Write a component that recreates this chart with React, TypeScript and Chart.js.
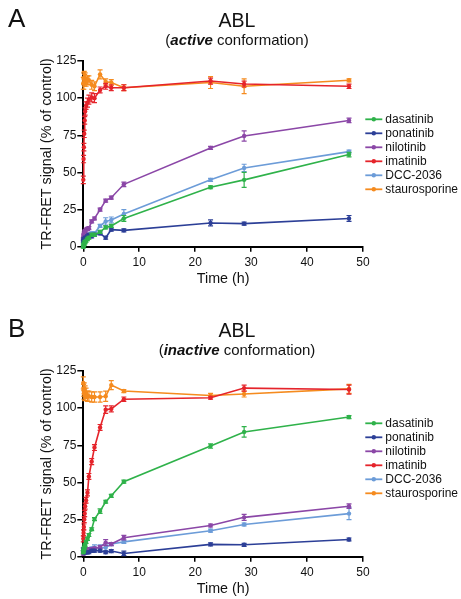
import React, { useEffect, useRef } from "react";
import { Chart, registerables } from "chart.js";

Chart.register(...registerables);

// ---------- data ----------
const timesH = [0, 0.05, 0.1, 0.17, 0.25, 0.33, 0.5, 0.75, 1, 1.5, 2, 3, 4, 5, 7.25, 22.75, 28.75, 47.5];
const seriesNames = ["dasatinib", "ponatinib", "nilotinib", "imatinib", "DCC-2036", "staurosporine"];
const seriesColors = ["#2fb24a", "#2c3f97", "#8b47a7", "#e5242b", "#6c9cd8", "#f58b1f"];
const xTicks = [0, 10, 20, 30, 40, 50];
const yTicks = [0, 25, 50, 75, 100, 125];

// Panel A (active conformation)
const dasatinibA = [0, 1, 2, 2, 3, 3, 4, 5, 6, 8, 8, 10, 13, 14, 19, 40, 45, 62];
const ponatinibA = [4, 4, 5, 5, 5, 6, 6, 7, 8, 7, 8, 9, 6, 11.5, 11, 16, 15.5, 19];
const nilotinibA = [5, 7, 8, 9, 10, 10.5, 11.5, 12, 12.5, 17, 19, 25, 31, 33, 42, 66.5, 74.5, 85];
const dccA = [3, 3, 4, 4, 5, 5, 6, 7, 8, 9, 9, 14, 17, 18, 22, 45, 53, 64];
const imatinibA = [45, 59, 67, 76, 85, 91, 95, 97, 99, 100.5, 100, 105.5, 108, 107, 107, 111.5, 109.5, 108];
const stauroA = [110, 113, 110, 114, 112, 113, 111, 112, 112, 109, 108, 116, 111, 110.5, 107, 110.5, 108, 112];

const dasatinibAErr = [1, 1, 1, 1, 1, 1, 1, 1, 1, 1, 1, 1, 1, 1, 2, 1, 5, 1.5];
const ponatinibAErr = [1, 1, 1, 1, 1, 1, 1, 1, 1, 1, 1, 1, 1, 1, 1, 2, 1, 2];
const nilotinibAErr = [1, 1, 1, 1, 1, 1, 1, 1, 1, 1, 1, 1, 1, 1, 1.5, 1, 3.5, 1.5];
const dccAErr = [1, 1, 1, 1, 1, 1, 1, 1, 1, 1, 1, 1, 2.5, 2, 3, 1, 2.5, 1];
const imatinibAErr = [2.5, 2.5, 2.5, 2.5, 2.5, 2.5, 2.5, 3, 3, 3, 3, 2, 2, 2, 2, 2, 2, 1.5];
const stauroAErr = [4, 4, 4, 4, 4, 4, 3, 3, 3, 3, 3, 3, 2, 2, 2, 4, 5, 1];

// Panel B (inactive conformation)
const dasatinibB = [3, 4, 5, 6, 7, 8, 10, 12, 14.6, 18.5, 25.3, 30.7, 37, 41, 50.5, 74.5, 84, 94];
const ponatinibB = [5, 4, 4, 3, 3, 3, 3, 3, 3, 4, 4, 4, 3, 3.8, 2.2, 8.3, 8, 11.6];
const nilotinibB = [2, 3, 3, 3, 3, 4, 4, 5, 5, 5, 5.5, 6.5, 9.5, 8.5, 12.8, 21, 26.5, 34];
const dccB = [3, 4, 4, 5, 5, 5, 5, 5, 5, 5.5, 6, 6, 6, 8.5, 10, 17.5, 21.7, 29];
const imatinibB = [12, 16, 20, 25, 29, 34, 38, 43, 54, 64, 73.5, 87, 99, 99.5, 106, 107, 113.5, 112.5];
const stauroB = [117, 112, 110, 113, 109, 111, 110, 108, 108, 107.5, 107.5, 107.5, 108, 115.5, 111.5, 108.5, 109.5, 113];

const dasatinibBErr = [1, 1, 1, 1, 1, 1, 1, 1, 1, 1, 1, 1.5, 1, 1, 1, 1.5, 3.5, 1];
const ponatinibBErr = [1, 1, 1, 1, 1, 1, 1, 1, 1, 1, 1, 1, 1, 1, 1.5, 1, 1, 1];
const nilotinibBErr = [1, 1, 1, 1, 1, 1, 1, 1, 1, 1, 1, 1, 2, 1, 1.5, 1, 2, 1.5];
const dccBErr = [1, 1, 1, 1, 1, 1, 1, 1, 1, 1, 2, 2, 2, 1, 1, 1, 1, 4];
const imatinibBErr = [2, 2, 2, 2, 2, 2, 2, 2, 2, 2, 2, 2, 2.5, 2, 1.5, 1, 2, 3];
const stauroBErr = [4, 4, 4, 4, 4, 4, 3.5, 3.5, 3.5, 3.5, 3.5, 3.5, 3.5, 3, 1, 1.5, 2, 3];

const FONT = "'Liberation Sans', Arial, Helvetica, sans-serif";

type PanelCfg = {
  letter: string;
  state: string;
  values: number[][];
  errors: number[][];
  legendTop: number;
};

const panels: PanelCfg[] = [
  {
    letter: "A",
    state: "active",
    values: [dasatinibA, ponatinibA, nilotinibA, imatinibA, dccA, stauroA],
    errors: [dasatinibAErr, ponatinibAErr, nilotinibAErr, imatinibAErr, dccAErr, stauroAErr],
    legendTop: 58.3,
  },
  {
    letter: "B",
    state: "inactive",
    values: [dasatinibB, ponatinibB, nilotinibB, imatinibB, dccB, stauroB],
    errors: [dasatinibBErr, ponatinibBErr, nilotinibBErr, imatinibBErr, dccBErr, stauroBErr],
    legendTop: 52.3,
  },
];

const W = 461;
const H = 289;

function Panel({ cfg, top }: { cfg: PanelCfg; top: number }) {
  const ref = useRef<HTMLCanvasElement | null>(null);

  useEffect(() => {
    if (!ref.current) return;

    const datasets = seriesNames.map((name, i) => ({
      label: name,
      data: timesH.map((t, j) => ({ x: t, y: cfg.values[i][j] })),
      borderColor: seriesColors[i],
      backgroundColor: seriesColors[i],
      borderWidth: 1.6,
      pointRadius: 2.2,
      pointBorderWidth: 0,
      pointHoverRadius: 2.2,
      tension: 0,
      clip: false as any,
      errors: cfg.errors[i],
    }));

    const errorBars = {
      id: "errorBars",
      afterDatasetDraw(chart: any, args: any) {
        const ds = chart.data.datasets[args.index];
        const errs: number[] = ds.errors;
        if (!errs) return;
        const ys = chart.scales.y;
        const xs = chart.scales.x;
        const ctx = chart.ctx;
        ctx.save();
        ctx.strokeStyle = ds.borderColor;
        ctx.lineWidth = 1.2;
        ds.data.forEach((p: any, j: number) => {
          const e = errs[j];
          if (!e) return;
          const px = xs.getPixelForValue(p.x);
          const y1 = ys.getPixelForValue(p.y - e);
          const y2 = ys.getPixelForValue(p.y + e);
          ctx.beginPath();
          ctx.moveTo(px, y1);
          ctx.lineTo(px, y2);
          ctx.moveTo(px - 2.5, y1);
          ctx.lineTo(px + 2.5, y1);
          ctx.moveTo(px - 2.5, y2);
          ctx.lineTo(px + 2.5, y2);
          ctx.stroke();
        });
        ctx.restore();
      },
    };

    const titles = {
      id: "titles",
      afterDraw(chart: any) {
        const ctx = chart.ctx;
        ctx.save();
        ctx.fillStyle = "#111";
        ctx.textBaseline = "alphabetic";
        // panel letter
        ctx.font = `26px ${FONT}`;
        ctx.textAlign = "left";
        ctx.fillText(cfg.letter, 8, 26.5);
        // main title
        ctx.font = `19.5px ${FONT}`;
        ctx.textAlign = "center";
        ctx.fillText("ABL", 237, 27);
        // subtitle with bold italic word
        const regFont = `15px ${FONT}`;
        const boldFont = `italic bold 15px ${FONT}`;
        const p1 = "(";
        const p2 = cfg.state;
        const p3 = " conformation)";
        ctx.font = regFont;
        const w1 = ctx.measureText(p1).width;
        const w3 = ctx.measureText(p3).width;
        ctx.font = boldFont;
        const w2 = ctx.measureText(p2).width;
        let x = 237 - (w1 + w2 + w3) / 2;
        const by = 44.5;
        ctx.textAlign = "left";
        ctx.font = regFont;
        ctx.fillText(p1, x, by);
        x += w1;
        ctx.font = boldFont;
        ctx.fillText(p2, x, by);
        x += w2;
        ctx.font = regFont;
        ctx.fillText(p3, x, by);

        // legend
        const ca = chart.chartArea;
        ctx.font = `12px ${FONT}`;
        ctx.textBaseline = "middle";
        seriesNames.forEach((name, i) => {
          const y = ca.top + cfg.legendTop + i * 14;
          const x0 = ca.right + 2.3;
          ctx.strokeStyle = seriesColors[i];
          ctx.fillStyle = seriesColors[i];
          ctx.lineWidth = 1.8;
          ctx.beginPath();
          ctx.moveTo(x0, y);
          ctx.lineTo(x0 + 17, y);
          ctx.stroke();
          ctx.beginPath();
          ctx.arc(x0 + 8.5, y, 2.2, 0, Math.PI * 2);
          ctx.fill();
          ctx.fillStyle = "#111";
          ctx.fillText(name, ca.right + 22.3, y + 0.5);
        });
        ctx.restore();
      },
    };

    const chart = new Chart(ref.current, {
      type: "line",
      data: { datasets: datasets as any },
      plugins: [errorBars, titles],
      options: {
        responsive: false,
        animation: false,
        events: [],
        layout: { padding: { left: 0, right: 98, top: 61, bottom: 0 } },
        plugins: {
          legend: { display: false },
          title: { display: false },
          tooltip: { enabled: false },
        },
        scales: {
          x: {
            type: "linear",
            min: xTicks[0],
            max: xTicks[xTicks.length - 1],
            afterFit: (s: any) => {
              s.height = 42.3;
            },
            afterBuildTicks: (s: any) => {
              s.ticks = xTicks.map((v) => ({ value: v }));
            },
            ticks: {
              color: "#111",
              font: { family: FONT, size: 12 },
              padding: 4,
              maxRotation: 0,
            },
            grid: {
              display: true,
              drawOnChartArea: false,
              drawTicks: true,
              tickLength: 5,
              color: "#000",
              lineWidth: 1.5,
            },
            border: { display: true, color: "#000", width: 2 },
            title: {
              display: true,
              text: "Time (h)",
              color: "#111",
              font: { family: FONT, size: 14.3 },
              padding: { top: 0, bottom: 1.6 },
            },
          },
          y: {
            type: "linear",
            min: yTicks[0],
            max: yTicks[yTicks.length - 1],
            afterFit: (s: any) => {
              s.width = 83.3;
            },
            afterBuildTicks: (s: any) => {
              s.ticks = yTicks.map((v) => ({ value: v }));
            },
            ticks: {
              color: "#111",
              font: { family: FONT, size: 12 },
              padding: 1,
            },
            grid: {
              display: true,
              drawOnChartArea: false,
              drawTicks: true,
              tickLength: 6,
              color: "#000",
              lineWidth: 1.5,
            },
            border: { display: true, color: "#000", width: 2 },
            title: {
              display: true,
              text: "TR-FRET signal (% of control)",
              color: "#111",
              font: { family: FONT, size: 14.3 },
              padding: { top: 38.1, bottom: 0 },
            },
          },
        },
      },
    });
    return () => chart.destroy();
  }, [cfg]);

  return (
    <canvas
      ref={ref}
      width={W}
      height={H}
      style={{ position: "absolute", left: 0, top, width: W, height: H }}
    />
  );
}

export default function App() {
  return (
    <div
      style={{
        position: "absolute",
        left: 0,
        top: 0,
        width: W,
        height: 599,
        background: "#fff",
        overflow: "hidden",
      }}
    >
      <Panel cfg={panels[0]} top={0} />
      <Panel cfg={panels[1]} top={310} />
    </div>
  );
}
